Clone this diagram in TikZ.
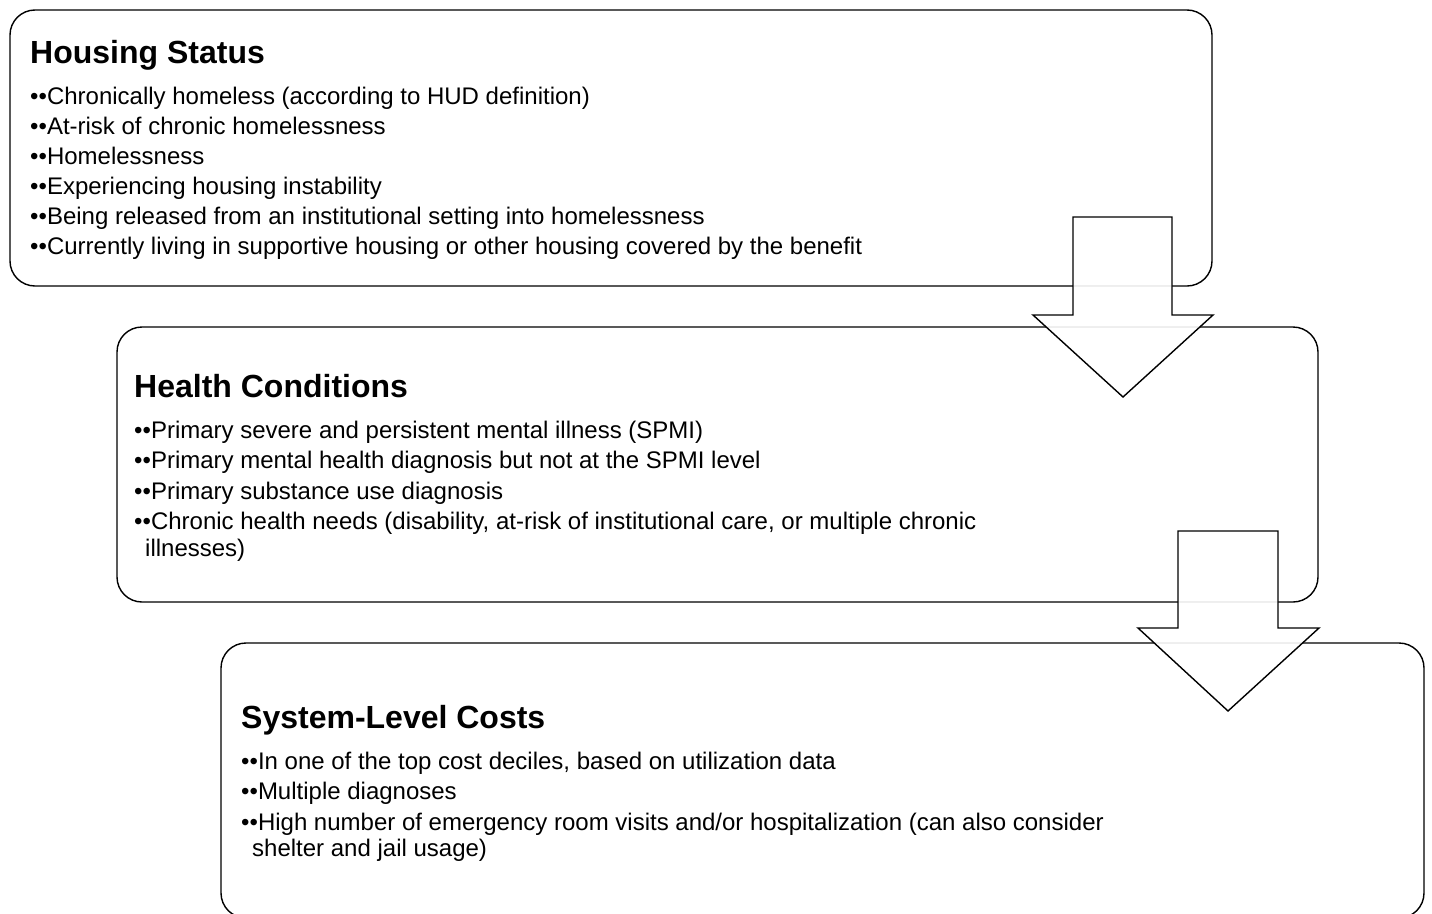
\documentclass[tikz,border=0pt]{standalone}
\usepackage{fontspec}
\setmainfont{Liberation Sans}
\begin{document}
\begin{tikzpicture}[x=1pt,y=-1pt,
  box/.style={draw=black,line width=1.4pt,rounded corners=25pt,fill=white},
  blockarrow/.style={draw=black,line width=1.4pt,fill=white,fill opacity=0.9,line join=miter},
  title/.style={anchor=base west,inner sep=0pt,font=\fontsize{32}{38}\selectfont\bfseries},
  item/.style={anchor=base west,inner sep=0pt,font=\fontsize{24}{28}\selectfont}]
\useasboundingbox (0,0) rectangle (1432,913);
\clip (0,0) rectangle (1432,913);
% boxes
\draw[box] (10,10) rectangle (1212,286);
\draw[box] (117,327) rectangle (1318,602);
\draw[box] (221,643) rectangle (1424,918);
% arrows
\draw[blockarrow] (1073,217) -- (1172,217) -- (1172,315) -- (1213,315) -- (1123,397) -- (1033,315) -- (1073,315) -- cycle;
\draw[blockarrow] (1178,531) -- (1278,531) -- (1278,628) -- (1319,628) -- (1228,711) -- (1138,628) -- (1178,628) -- cycle;
% Housing
\node[title] (t1) at (30,63) {Housing Status};
\node[item] (h1) at (30,104) {••Chronically homeless (according to HUD definition)};
\node[item] (h2) at (30,134) {••At-risk of chronic homelessness};
\node[item] (h3) at (30,164) {••Homelessness};
\node[item] (h4) at (30,194) {••Experiencing housing instability};
\node[item] (h5) at (30,224) {••Being released from an institutional setting into homelessness};
\node[item] (h6) at (30,254) {••Currently living in supportive housing or other housing covered by the benefit};
% Health
\node[title] (t2) at (134,397) {Health Conditions};
\node[item] (c1) at (134,438) {••Primary severe and persistent mental illness (SPMI)};
\node[item] (c2) at (134,468) {••Primary mental health diagnosis but not at the SPMI level};
\node[item] (c3) at (134,499) {••Primary substance use diagnosis};
\node[item] (c4) at (134,529) {••Chronic health needs (disability, at-risk of institutional care, or multiple chronic};
\node[item] (c5) at (145,556) {illnesses)};
% System
\node[title] (t3) at (241,728) {System-Level Costs};
\node[item] (s1) at (241,769) {••In one of the top cost deciles, based on utilization data};
\node[item] (s2) at (241,799) {••Multiple diagnoses};
\node[item] (s3) at (241,830) {••High number of emergency room visits and/or hospitalization (can also consider};
\node[item] (s4) at (252,856) {shelter and jail usage)};
\end{tikzpicture}
\end{document}
